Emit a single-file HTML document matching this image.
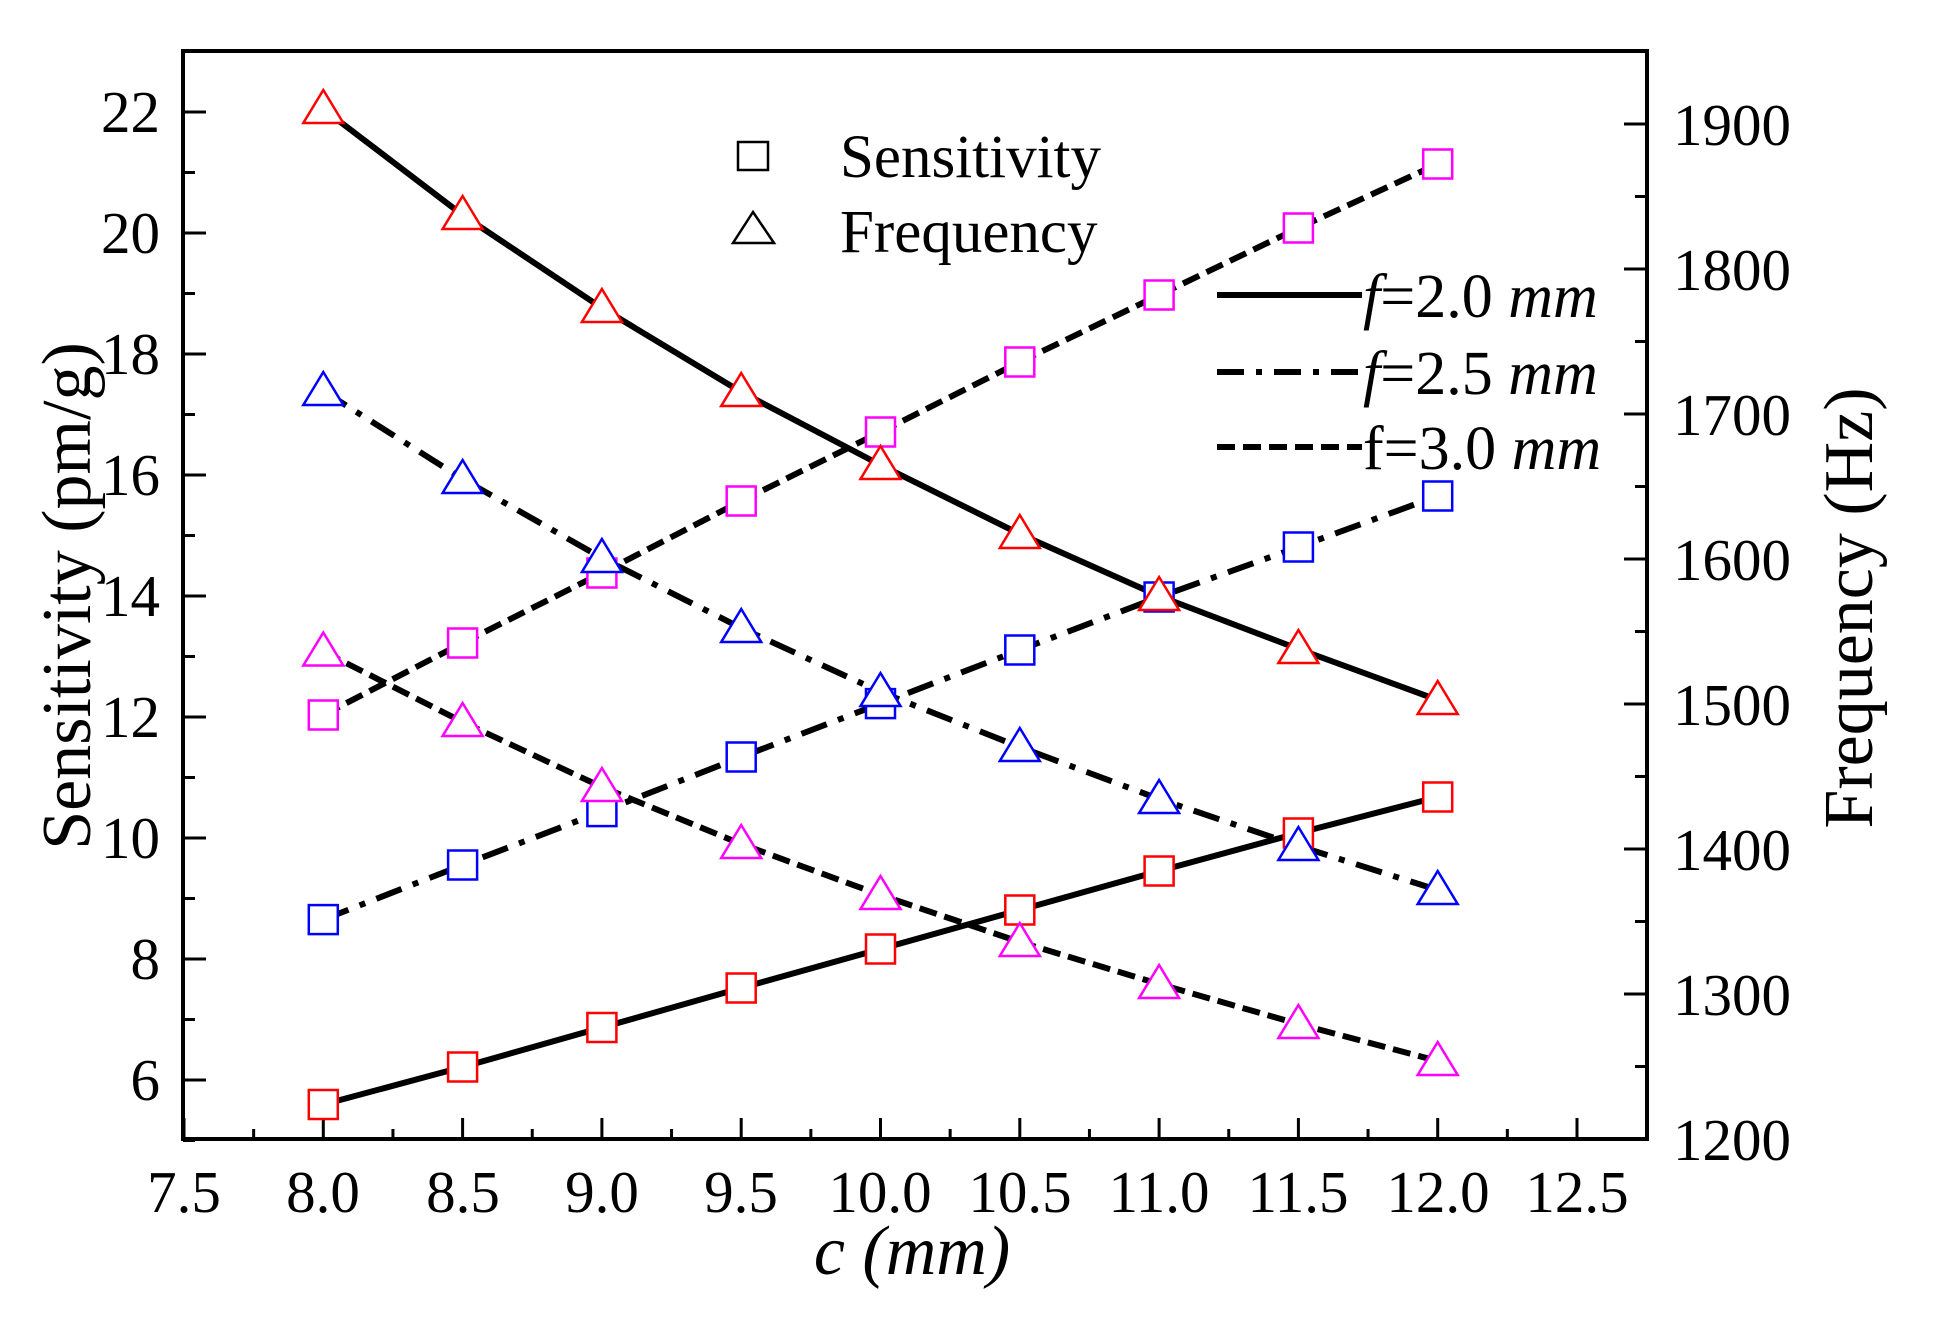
<!DOCTYPE html>
<html><head><meta charset="utf-8"><style>
html,body{margin:0;padding:0;background:#fff;}
svg{display:block;}
text{font-family:"Liberation Serif",serif;fill:#000;}
</style></head><body>
<svg id="s" width="1946" height="1321" viewBox="0 0 1946 1321" xmlns="http://www.w3.org/2000/svg">
<rect x="0" y="0" width="1946" height="1321" fill="#fff"/>
<g id="ticks" stroke="#000" stroke-width="3"></g>
<g id="series"></g>
<rect x="183" y="51" width="1464" height="1088" fill="none" stroke="#000" stroke-width="4"/>
<g font-size="59" text-anchor="middle">
<text x="184" y="1212">7.5</text><text x="323" y="1212">8.0</text><text x="463" y="1212">8.5</text>
<text x="602" y="1212">9.0</text><text x="741" y="1212">9.5</text><text x="880" y="1212">10.0</text>
<text x="1020" y="1212">10.5</text><text x="1159" y="1212">11.0</text><text x="1298" y="1212">11.5</text>
<text x="1438" y="1212">12.0</text><text x="1577" y="1212">12.5</text>
</g>
<g font-size="59" text-anchor="end">
<text x="160" y="132">22</text><text x="160" y="253">20</text><text x="160" y="374">18</text>
<text x="160" y="495">16</text><text x="160" y="616">14</text><text x="160" y="737">12</text>
<text x="160" y="858">10</text><text x="160" y="979">8</text><text x="160" y="1100">6</text>
</g>
<g font-size="59" text-anchor="start">
<text x="1673" y="145">1900</text><text x="1673" y="290">1800</text><text x="1673" y="435">1700</text>
<text x="1673" y="580">1600</text><text x="1673" y="725">1500</text><text x="1673" y="870">1400</text>
<text x="1673" y="1015">1300</text><text x="1673" y="1160">1200</text>
</g>
<text x="912" y="1274" font-size="70" text-anchor="middle" font-style="italic">c (mm)</text>
<text transform="translate(90,596) rotate(-90)" font-size="70" text-anchor="middle">Sensitivity (pm/g)</text>
<text transform="translate(1872,608) rotate(-90)" font-size="70" text-anchor="middle">Frequency (Hz)</text>
<rect x="738" y="142" width="30" height="28" fill="none" stroke="#000" stroke-width="2.5"/>
<polygon points="753,212 733,243 774,243" fill="none" stroke="#000" stroke-width="2.5"/>
<text x="840" y="177" font-size="61">Sensitivity</text>
<text x="840" y="252" font-size="61">Frequency</text>
<line x1="1217" y1="295" x2="1362" y2="295" stroke="#000" stroke-width="6"/>
<line x1="1217" y1="372" x2="1362" y2="372" stroke="#000" stroke-width="6" stroke-dasharray="27,12,6,12"/>
<line x1="1217" y1="447" x2="1362" y2="447" stroke="#000" stroke-width="6" stroke-dasharray="18,8"/>
<text x="1363" y="317" font-size="62"><tspan font-style="italic">f</tspan>=2.0 <tspan font-style="italic">mm</tspan></text>
<text x="1363" y="394" font-size="62"><tspan font-style="italic">f</tspan>=2.5 <tspan font-style="italic">mm</tspan></text>
<text x="1363" y="469" font-size="62">f=3.0 <tspan font-style="italic">mm</tspan></text>
</svg>
<script>
(function(){
var NS="http://www.w3.org/2000/svg";
var tk=document.getElementById('ticks');
function ln(p,x1,y1,x2,y2){var l=document.createElementNS(NS,'line');l.setAttribute('x1',x1);l.setAttribute('y1',y1);l.setAttribute('x2',x2);l.setAttribute('y2',y2);p.appendChild(l);return l;}
for(var i=0;i<=21;i++){var x=184+i*69.65;if(x>1645)break;ln(tk,x,1139,x,1139-(i%2==0?21:10));}
for(var v=5;v<=23;v++){var y=112+(22-v)*60.5;if(y<53)continue;ln(tk,183,y,183+(v%2==0?23:12),y);}
for(var f=1200;f<=1950;f+=50){var y=1139-(f-1200)*1.45;if(y<53)continue;ln(tk,1647,y,1647-(f%100==0?23:12),y);}
var xs=[323.3,462.6,601.9,741.2,880.5,1019.8,1159.1,1298.4,1437.7];
var S=[
 {y:[1104.5,1067,1027.5,988,949,910,871,833,797],c:'#f00',m:'s',d:null},
 {y:[919.6,865,811.6,757,703.6,650,597,547,496],c:'#00f',m:'s',d:'27,12,6,12'},
 {y:[715,643,573,501,432,362,295,228,164],c:'#f0f',m:'s',d:'18,8'},
 {y:[109,215,308,392,465,534,596,649,700],c:'#f00',m:'t',d:null},
 {y:[391,479,558,628,692,747,799,846,890],c:'#00f',m:'t',d:'27,12,6,12'},
 {y:[651.5,722,787,844,895,942,984,1024,1061],c:'#f0f',m:'t',d:'18,8'}
];
var g=document.getElementById('series');
S.forEach(function(s){
 var pts=xs.map(function(x,i){return x+','+s.y[i];}).join(' ');
 var pl=document.createElementNS(NS,'polyline');pl.setAttribute('points',pts);pl.setAttribute('fill','none');pl.setAttribute('stroke','#000');pl.setAttribute('stroke-width','6');if(s.d)pl.setAttribute('stroke-dasharray',s.d);g.appendChild(pl);
});
S.forEach(function(s){
 xs.forEach(function(x,i){var y=s.y[i],e;
  if(s.m=='s'){e=document.createElementNS(NS,'rect');e.setAttribute('x',x-14.5);e.setAttribute('y',y-14.5);e.setAttribute('width',29);e.setAttribute('height',29);}
  else{e=document.createElementNS(NS,'polygon');e.setAttribute('points',x+','+(y-19)+' '+(x-20)+','+(y+14)+' '+(x+20)+','+(y+14));}
  e.setAttribute('fill','#fff');e.setAttribute('stroke',s.c);e.setAttribute('stroke-width','2.5');g.appendChild(e);
 });
});
})();
</script>
</body></html>
